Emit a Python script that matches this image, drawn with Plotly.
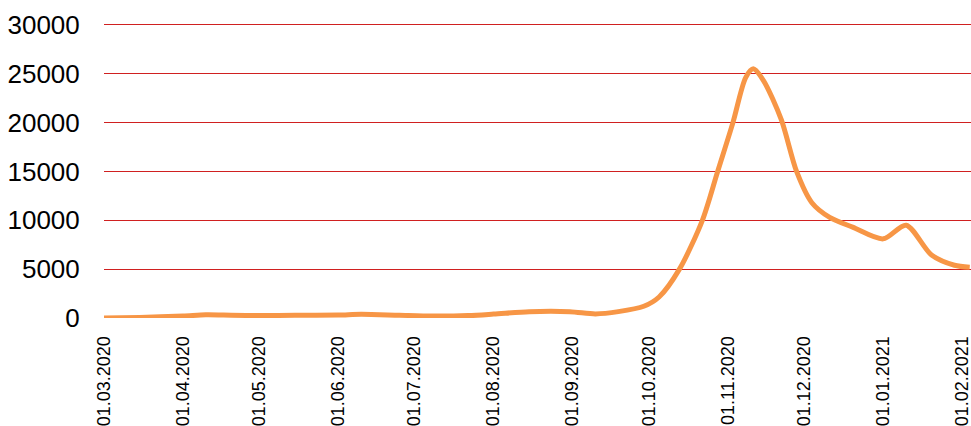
import plotly.graph_objects as go

dates = ["2020-03-01", "2020-03-15", "2020-04-01", "2020-04-10", "2020-04-20", "2020-05-01",
         "2020-05-15", "2020-06-01", "2020-06-10", "2020-06-25", "2020-07-08", "2020-07-22",
         "2020-08-01", "2020-08-15", "2020-08-31", "2020-09-10", "2020-09-19", "2020-09-29",
         "2020-10-05", "2020-10-13", "2020-10-22", "2020-10-28", "2020-11-03", "2020-11-08",
         "2020-11-11", "2020-11-15", "2020-11-22", "2020-11-28", "2020-12-04", "2020-12-11",
         "2020-12-20", "2021-01-01", "2021-01-10", "2021-01-20", "2021-01-29", "2021-02-04"]
values = [0, 60, 200, 330, 290, 250,
          270, 300, 380, 280, 200, 250,
          400, 650, 650, 420, 650, 1200,
          2150, 5000, 10000, 15000, 20000, 24600,
          25500, 24300, 20300, 15000, 11800, 10300,
          9300, 8100, 9500, 6450, 5400, 5200]

tick_vals = ["2020-03-01", "2020-04-01", "2020-05-01", "2020-06-01", "2020-07-01", "2020-08-01",
             "2020-09-01", "2020-10-01", "2020-11-01", "2020-12-01", "2021-01-01", "2021-02-01"]
tick_text = ["01.03.2020", "01.04.2020", "01.05.2020", "01.06.2020", "01.07.2020", "01.08.2020",
             "01.09.2020", "01.10.2020", "01.11.2020", "01.12.2020", "01.01.2021", "01.02.2021"]

y_ticks = [0, 5000, 10000, 15000, 20000, 25000, 30000]

fig = go.Figure()
fig.add_trace(go.Scatter(
    x=dates, y=values, mode="lines",
    line=dict(color="#F79646", width=5, shape="spline", smoothing=0.8),
    showlegend=False, hoverinfo="skip", cliponaxis=False,
))

fig.update_layout(
    width=971, height=426,
    margin=dict(l=104, r=0, t=20, b=108),
    paper_bgcolor="white", plot_bgcolor="white",
    font=dict(family="Liberation Sans, Arial, sans-serif", color="black"),
    xaxis=dict(
        type="date", range=["2020-03-01", "2021-02-04 12:00"],
        tickvals=tick_vals, ticktext=tick_text, tickangle=-90,
        tickfont=dict(size=18), showgrid=False, zeroline=False, showline=False,
        ticks="outside", ticklen=10, tickcolor="rgba(0,0,0,0)",
        ticklabeloverflow="allow",
    ),
    yaxis=dict(
        range=[0, 30500], tickvals=y_ticks, ticktext=[str(v) for v in y_ticks],
        tickfont=dict(size=26), showgrid=True, gridcolor="#D02020", gridwidth=1,
        zeroline=False, showline=False, ticks="outside", ticklen=18, tickcolor="rgba(0,0,0,0)",
    ),
)

fig.write_html("out.html")
